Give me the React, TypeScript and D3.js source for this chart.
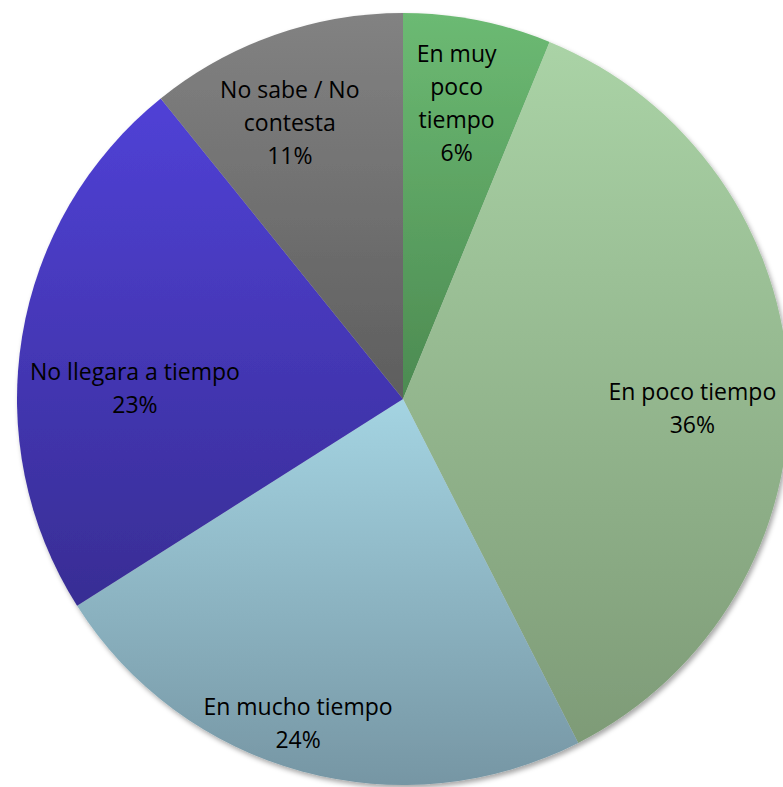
import { useEffect, useRef } from "react";
import * as d3 from "d3";

// slice data, clockwise from 12 o'clock
const CATEGORIES = [
  "En muy poco tiempo",
  "En poco tiempo",
  "En mucho tiempo",
  "No llegara a tiempo",
  "No sabe / No contesta",
];
const VALUES = [6.2, 36.3, 23.5, 23.2, 10.8];

// how the label text wraps inside each slice
const LABEL_LINES = [
  ["En muy", "poco", "tiempo"],
  ["En poco tiempo"],
  ["En mucho tiempo"],
  ["No llegara a tiempo"],
  ["No sabe / No", "contesta"],
];

// gradient top / bottom per slice
const GRADIENTS: [string, string][] = [
  ["#6cba73", "#4c8a51"],
  ["#aad3a6", "#7e9b77"],
  ["#a4d4e2", "#7696a4"],
  ["#5041d6", "#382d94"],
  ["#828282", "#5e5e5e"],
];

// best-fit label placement: [radius fraction, angle shift in degrees]
const LABEL_PLACE: [number, number][] = [
  [0.78, -0.9],
  [0.75, 4.1],
  [0.88, 2.7],
  [0.695, -7],
  [0.775, -2.8],
];

const W = 783;
const H = 787;

export default function App() {
  const ref = useRef<SVGSVGElement>(null);

  useEffect(() => {
    if (!ref.current) return;
    const svg = d3.select(ref.current);
    svg.selectAll("*").remove();

    const cx = 403;
    const cy = 399;
    const R = 386;

    const defs = svg.append("defs");
    GRADIENTS.forEach(([a, b], i) => {
      const lg = defs
        .append("linearGradient")
        .attr("id", `grad${i}`)
        .attr("x1", 0)
        .attr("y1", 0)
        .attr("x2", 0)
        .attr("y2", 1);
      lg.append("stop").attr("offset", "0%").attr("stop-color", a);
      lg.append("stop").attr("offset", "100%").attr("stop-color", b);
    });
    const f = defs
      .append("filter")
      .attr("id", "shadow")
      .attr("x", "-5%")
      .attr("y", "-5%")
      .attr("width", "110%")
      .attr("height", "110%");
    f.append("feDropShadow")
      .attr("dx", 2)
      .attr("dy", 3)
      .attr("stdDeviation", 2.5)
      .attr("flood-color", "#000")
      .attr("flood-opacity", 0.35);

    const pie = d3
      .pie<number>()
      .sort(null)
      .value((d) => d);
    const arcs = pie(VALUES);
    const arc = d3.arc<d3.PieArcDatum<number>>().innerRadius(0).outerRadius(R);

    const g = svg.append("g").attr("transform", `translate(${cx},${cy})`);

    g.append("g")
      .attr("filter", "url(#shadow)")
      .selectAll("path")
      .data(arcs)
      .join("path")
      .attr("d", arc)
      .attr("fill", (_, i) => `url(#grad${i})`);

    // labels
    const total = d3.sum(VALUES);
    arcs.forEach((a, i) => {
      const [rf, shift] = LABEL_PLACE[i];
      const ang = (a.startAngle + a.endAngle) / 2 + (shift * Math.PI) / 180;
      const lx = Math.sin(ang) * R * rf;
      const ly = -Math.cos(ang) * R * rf;
      const lines = [
        ...LABEL_LINES[i],
        `${Math.round((VALUES[i] / total) * 100)}%`,
      ];
      const lh = 33;
      const t = g
        .append("text")
        .attr("text-anchor", "middle")
        .attr("font-family", "'Open Sans', sans-serif")
        .attr("font-size", 23)
        .attr("fill", "#000");
      lines.forEach((s, j) => {
        t.append("tspan")
          .attr("x", lx)
          .attr("y", ly + (j - (lines.length - 1) / 2) * lh)
          .attr("dominant-baseline", "central")
          .text(s);
      });
      t.append("title").text(CATEGORIES[i]);
    });
  }, []);

  return (
    <svg
      ref={ref}
      width={W}
      height={H}
      style={{ position: "absolute", left: 0, top: 0, background: "#fff" }}
    />
  );
}
